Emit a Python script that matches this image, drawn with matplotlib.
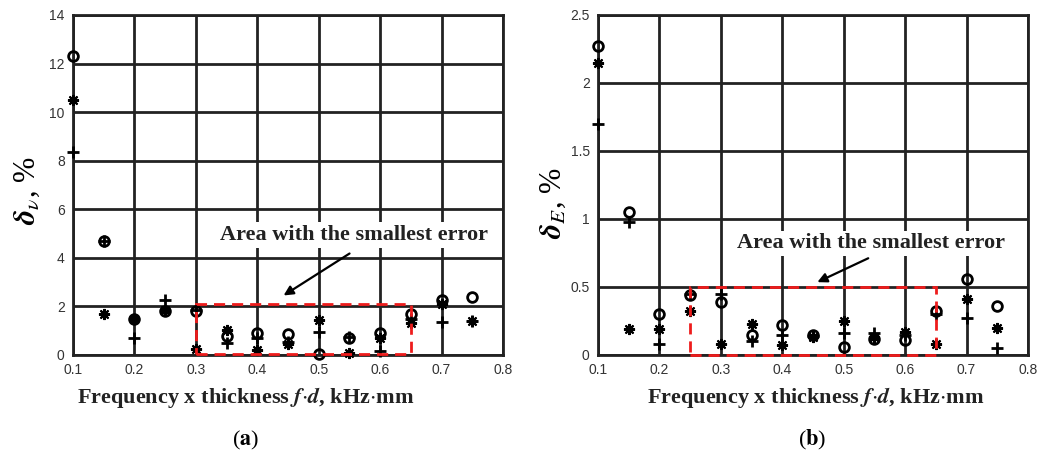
import matplotlib.pyplot as plt
from matplotlib.patches import Rectangle

plt.rcParams['mathtext.fontset'] = 'stix'
plt.rcParams['font.family'] = ['Liberation Sans', 'DejaVu Sans']

# frequency x thickness
fd = [0.1, 0.15, 0.2, 0.25, 0.3, 0.35, 0.4, 0.45, 0.5, 0.55, 0.6, 0.65, 0.7, 0.75]

# (a) delta_nu, %
nu_circ = [12.3, 4.7, 1.5, 1.8, 1.8, 0.8, 0.9, 0.85, 0.05, 0.7, 0.9, 1.7, 2.25, 2.4]
nu_star = [10.5, 1.7, 1.5, 1.85, 0.25, 1.05, 0.2, 0.45, 1.45, 0.1, 0.7, 1.3, 2.1, 1.4]
nu_plus = [8.35, 4.7, 0.7, 2.25, 1.85, 0.5, 0.7, 0.55, 0.95, 0.75, 0.15, 1.5, 1.35, 1.4]

# (b) delta_E, %
e_circ = [2.27, 1.05, 0.3, 0.44, 0.39, 0.15, 0.22, 0.15, 0.06, 0.12, 0.11, 0.32, 0.56, 0.36]
e_star = [2.15, 0.19, 0.19, 0.32, 0.08, 0.23, 0.07, 0.13, 0.25, 0.13, 0.17, 0.08, 0.41, 0.2]
e_plus = [1.7, 0.98, 0.08, 0.45, 0.45, 0.1, 0.15, 0.14, 0.16, 0.16, 0.15, 0.3, 0.27, 0.05]

serif = ['Liberation Serif', 'DejaVu Serif']
dark = '#222222'

fig = plt.figure(figsize=(10.47, 4.57), dpi=100)
ax1 = fig.add_axes([73 / 1047, 1 - 355 / 457, 430 / 1047, 340 / 457])
ax2 = fig.add_axes([598 / 1047, 1 - 355 / 457, 430 / 1047, 340 / 457])


def style(ax, ymax, yticks):
    ax.set_xlim(0.1, 0.8)
    ax.set_ylim(0, ymax)
    ax.set_xticks([0.1, 0.2, 0.3, 0.4, 0.5, 0.6, 0.7, 0.8])
    ax.set_xticklabels(['0.1', '0.2', '0.3', '0.4', '0.5', '0.6', '0.7', '0.8'])
    ax.set_yticks(yticks)
    ax.set_yticklabels([('%g' % t) for t in yticks])
    ax.grid(True, color=dark, linewidth=2.0)
    ax.set_axisbelow(True)
    for s in ax.spines.values():
        s.set_linewidth(2.0)
        s.set_color(dark)
    ax.tick_params(length=0, labelsize=10, colors='#333333', pad=6)


def points(ax, c, s, p):
    ax.plot(fd, s, linestyle='none', marker=(8, 2, 0), markersize=8, mew=1.5, color='k', clip_on=False, zorder=3)
    ax.plot(fd, p, linestyle='none', marker='+', markersize=8, mew=2.0, color='k', clip_on=False, zorder=3)
    ax.plot(fd, c, linestyle='none', marker='o', markersize=7, mew=2.0, mfc='none', color='k', clip_on=False, zorder=3)


style(ax1, 14, [0, 2, 4, 6, 8, 10, 12, 14])
style(ax2, 2.5, [0, 0.5, 1, 1.5, 2, 2.5])
points(ax1, nu_circ, nu_star, nu_plus)
points(ax2, e_circ, e_star, e_plus)

# smallest error areas
ax1.add_patch(Rectangle((0.3, 0.05), 0.35, 2.05, fill=False, edgecolor='#ee1c1c',
                        linestyle=(0, (4, 2.5)), linewidth=2.0, zorder=4, clip_on=False))
ax2.add_patch(Rectangle((0.25, 0.0), 0.4, 0.5, fill=False, edgecolor='#ee1c1c',
                        linestyle=(0, (4, 2.5)), linewidth=2.0, zorder=4, clip_on=False))

box = dict(facecolor='white', edgecolor='none', pad=2)
ax1.annotate('', xy=(0.439, 2.39), xytext=(0.554, 4.24),
             arrowprops=dict(arrowstyle='-|>', color='k', lw=1.6, mutation_scale=14))
ax1.text(0.34, 4.94, 'Area with the smallest error', family=serif, fontweight='bold',
         fontsize=16, va='center', ha='left', bbox=box, zorder=5, color='#222222')
ax2.annotate('', xy=(0.453, 0.527), xytext=(0.544, 0.72),
             arrowprops=dict(arrowstyle='-|>', color='k', lw=1.6, mutation_scale=14))
ax2.text(0.326, 0.82, 'Area with the smallest error', family=serif, fontweight='bold',
         fontsize=16, va='center', ha='left', bbox=box, zorder=5, color='#222222', clip_on=False)

# axis labels
fig.text(27 / 1047, 1 - 191 / 457, r'$\mathbfit{\delta}_{\nu}$, %', rotation=90, fontsize=22,
         family=serif, ha='center', va='center')
fig.text(553 / 1047, 1 - 203 / 457, r'$\mathbfit{\delta}_{E}$, %', rotation=90, fontsize=22,
         family=serif, ha='center', va='center')
xlab = r'Frequency x thickness $\mathbfit{f}$$\cdot$$\mathbfit{d}$, kHz$\cdot$mm'
fig.text(246 / 1047, 1 - 398 / 457, xlab, fontsize=16, family=serif, fontweight='bold',
         ha='center', va='center', color='#222222')
fig.text(816 / 1047, 1 - 398 / 457, xlab, fontsize=16, family=serif, fontweight='bold',
         ha='center', va='center', color='#222222')
fig.text(246 / 1047, 1 - 440 / 457, r'($\mathbf{a}$)', fontsize=16, family=serif,
         ha='center', va='center')
fig.text(812 / 1047, 1 - 440 / 457, r'($\mathbf{b}$)', fontsize=16, family=serif,
         ha='center', va='center')

fig.savefig('out.png', dpi=100)
